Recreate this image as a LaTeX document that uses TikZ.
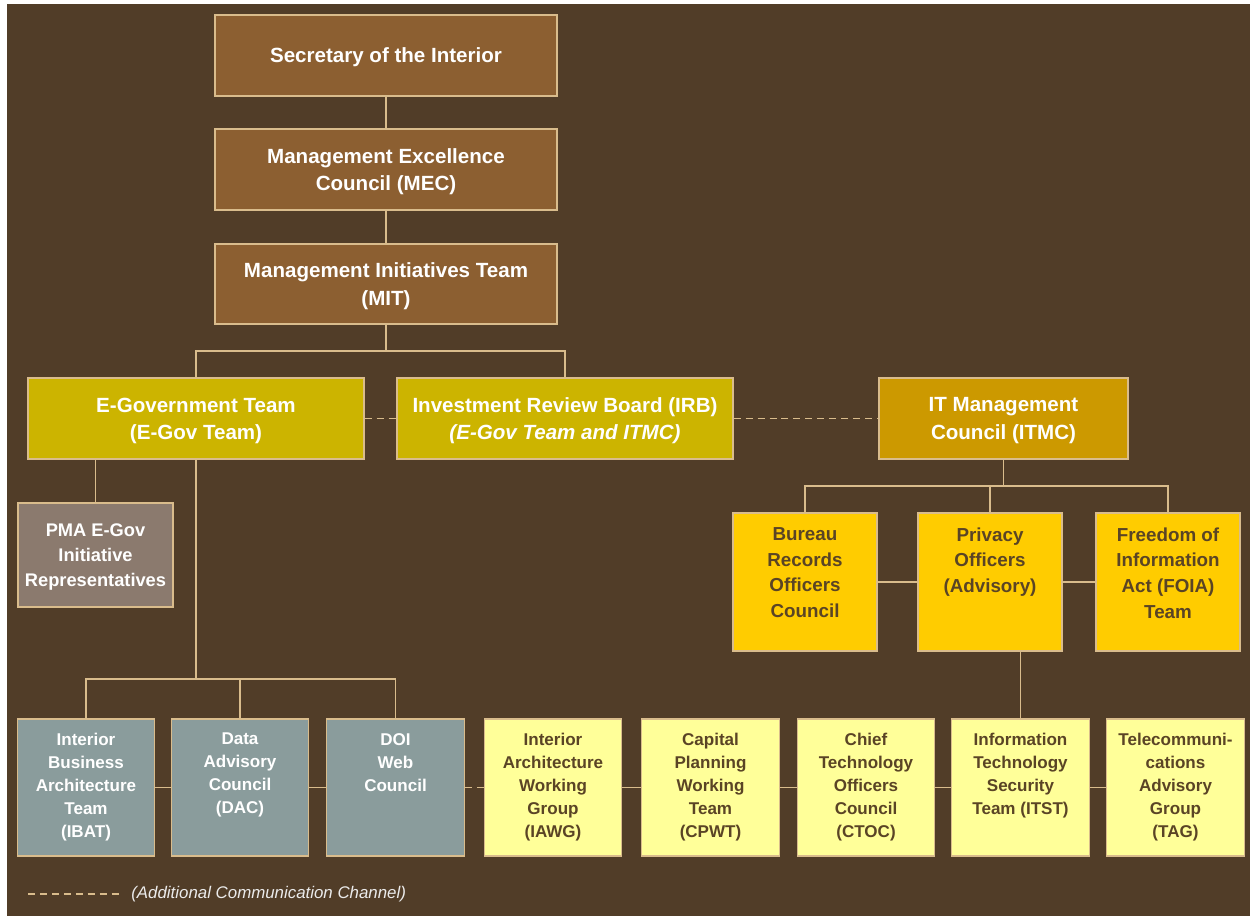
\documentclass[tikz,border=0pt]{standalone}
\usepackage{fontspec}
\setmainfont{Liberation Sans}
\usetikzlibrary{positioning}

\definecolor{bgbrown}{HTML}{513D28}
\definecolor{edgetan}{HTML}{D9BC8C}
\definecolor{unitbrown}{HTML}{8C5F31}
\definecolor{teamolive}{HTML}{CCB400}
\definecolor{itmcgold}{HTML}{CC9900}
\definecolor{pmagray}{HTML}{8B7A6E}
\definecolor{advgold}{HTML}{FFCC00}
\definecolor{deskgray}{HTML}{8A9C9C}
\definecolor{workyellow}{HTML}{FFFF99}
\definecolor{darktext}{HTML}{5A4425}

\tikzset{
  orgbox/.style={draw=edgetan, line width=0.8pt, inner sep=0pt, align=center,
    text=white, text depth=0pt, font=\bfseries\fontsize{11.7}{15.5}\selectfont},
  topbox/.style={orgbox, fill=unitbrown, minimum width=6.84cm, minimum height=1.62cm},
  teambox/.style={orgbox, fill=teamolive, minimum width=6.72cm, minimum height=1.62cm},
  sqbox/.style={draw=edgetan, line width=0.8pt, inner sep=0pt,
    minimum width=2.75cm, minimum height=2.74cm},
  sqtext/.style={anchor=north, align=center, inner sep=0pt,
    font=\bfseries\fontsize{9.7}{13.1}\selectfont},
  advtext/.style={anchor=north, align=center, inner sep=0pt, text=darktext,
    font=\bfseries\fontsize{10.7}{14.6}\selectfont},
  link/.style={draw=edgetan, line width=1.1pt},
  aux/.style={link, dash pattern=on 4pt off 2.8pt}
}

\begin{document}
\begin{tikzpicture}[x=0.02cm,y=-0.02cm]
\useasboundingbox (0,0) rectangle (1250,916);
\fill[white] (0,0) rectangle (1250,916);
\fill[bgbrown] (7,4) rectangle (1250,916);

% top of the chain
\node[topbox] (sec) at (386,55.5) {Secretary of the Interior};
\node[topbox] (mec) at (386,169.5) {Management Excellence\\Council (MEC)};
\node[topbox, minimum height=1.6cm] (mit) at (386,284) {Management Initiatives Team\\(MIT)};

\node[teambox] (egov) at (196,418.5) {E-Government Team\\(E-Gov Team)};
\node[teambox] (irb) at (565,418.5) {Investment Review Board (IRB)\\\textit{(E-Gov Team and ITMC)}};
\node[orgbox, fill=itmcgold, minimum width=4.98cm, minimum height=1.62cm] (itmc) at (1003.5,418.5) {IT Management\\Council (ITMC)};

\node[orgbox, fill=pmagray, minimum width=3.1cm, minimum height=2.08cm,
  font=\bfseries\fontsize{10.4}{14.2}\selectfont] (pma) at (95.5,555) {PMA E-Gov\\Initiative\\Representatives};

% advisory groups under the ITMC
\foreach \nm/\xc/\txt in {bro/805/{Bureau\\Records\\Officers\\Council},
  priv/990/{Privacy\\Officers\\(Advisory)},
  foia/1168/{Freedom of\\Information\\Act (FOIA)\\Team}}
{
  \node[sqbox, fill=advgold, minimum width=2.88cm, minimum height=2.76cm] (\nm) at (\xc,582) {};
  \node[advtext] (\nm-t) at ([yshift=-0.3cm]\nm.north) {\txt};
}

% bottom row
\foreach \nm/\xc/\fc/\tc/\txt in {ibat/86/deskgray/white/{Interior\\Business\\Architecture\\Team\\(IBAT)},
  dac/240/deskgray/white/{Data\\Advisory\\Council\\(DAC)},
  doi/395.5/deskgray/white/{DOI\\Web\\Council},
  iawg/553/workyellow/darktext/{Interior\\Architecture\\Working\\Group\\(IAWG)},
  cpwt/710.5/workyellow/darktext/{Capital\\Planning\\Working\\Team\\(CPWT)},
  ctoc/866/workyellow/darktext/{Chief\\Technology\\Officers\\Council\\(CTOC)},
  itst/1020.5/workyellow/darktext/{Information\\Technology\\Security\\Team (ITST)},
  tag/1175.5/workyellow/darktext/{Telecommuni-\\cations\\Advisory\\Group\\(TAG)}}
{
  \node[sqbox, fill=\fc] (\nm) at (\xc,787.5) {};
  \node[sqtext, text=\tc] (\nm-t) at ([yshift=-0.29cm]\nm.north) {\txt};
}

% connectors
\coordinate (mitj) at (386,351);
\coordinate (egj) at (196,679);
\coordinate (itj) at (1003.5,486);
\draw[link] (sec) -- (mec);
\draw[link] (mec) -- (mit);
\draw[link] (mit) -- (mitj);
\draw[link] (egov.north) |- (mitj) -| (irb.north);
\draw[link] (pma.north) -- (pma.north |- egov.south);
\draw[link] (egov.south) -- (egj);
\draw[link] (ibat.north) |- (egj) -| (doi.north);
\draw[link] (dac.north) -- (dac.north |- egj);
\draw[link] (itmc.south) -- (itj);
\draw[link] (bro.north) |- (itj) -| (foia.north);
\draw[link] (priv.north) -- (priv.north |- itj);
\draw[link] (bro) -- (priv);
\draw[link] (priv) -- (foia);
\draw[link] (itst.north) -- (itst.north |- priv.south);
\draw[link] (ibat) -- (dac);
\draw[link] (dac) -- (doi);
\draw[link] (iawg) -- (cpwt);
\draw[link] (cpwt) -- (ctoc);
\draw[link] (ctoc) -- (itst);
\draw[link] (itst) -- (tag);
\draw[aux] (egov) -- (irb);
\draw[aux] (irb) -- (itmc);
\draw[aux] (doi) -- (iawg);

% legend
\coordinate (lga) at (28,894);
\coordinate (lgb) at (120,894);
\draw[aux] (lga) -- (lgb);
\node[anchor=west, inner sep=0pt, text=white!92!black,
  font=\itshape\fontsize{9.6}{12}\selectfont] (lgt) at (131,894) {(Additional Communication Channel)};

\end{tikzpicture}
\end{document}
